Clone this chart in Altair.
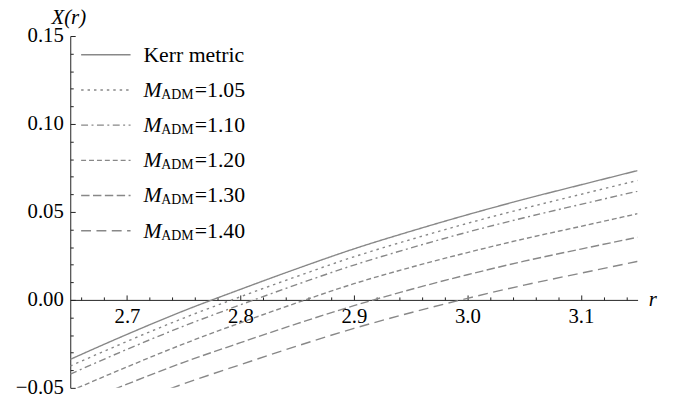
import altair as alt
import pandas as pd

# ---- data ----
r_values = [2.65, 2.70, 2.75, 2.80, 2.85, 2.90, 2.95, 3.00, 3.05, 3.10, 3.15]
kerr = [-0.0338, -0.0196, -0.0062, 0.0060, 0.0178, 0.0290, 0.0390, 0.0484, 0.0572, 0.0654, 0.0735]
m105 = [-0.0376, -0.0236, -0.0103, 0.0018, 0.0134, 0.0245, 0.0343, 0.0435, 0.0520, 0.0600, 0.0679]
m110 = [-0.0422, -0.0281, -0.0149, -0.0028, 0.0088, 0.0198, 0.0295, 0.0385, 0.0467, 0.0543, 0.0618]
m120 = [-0.0518, -0.0381, -0.0250, -0.0130, -0.0016, 0.0092, 0.0185, 0.0269, 0.0347, 0.0418, 0.0490]
m130 = [-0.0610, -0.0479, -0.0355, -0.0243, -0.0135, -0.0033, 0.0059, 0.0143, 0.0220, 0.0289, 0.0356]
m140 = [-0.0723, -0.0596, -0.0477, -0.0368, -0.0262, -0.0162, -0.0073, 0.0009, 0.0084, 0.0152, 0.0219]

series_names = ["Kerr metric", "1.05", "1.10", "1.20", "1.30", "1.40"]
series_values = [kerr, m105, m110, m120, m130, m140]
mass_labels = ["1.05", "1.10", "1.20", "1.30", "1.40"]

x_ticks = [round(2.66 + 0.02 * i, 2) for i in range(25)]
y_ticks = [round(-0.05 + 0.01 * i, 2) for i in range(21)]

# ---- style ----
dash_patterns = [[1, 0], [2.5, 4], [7, 3.5, 2, 3.5], [5, 3], [8.5, 3.5], [10, 5.5]]
LINE = "#888888"
FONT = "Liberation Serif"

rows = []
for name, vals in zip(series_names, series_values):
    for r, v in zip(r_values, vals):
        rows.append({"series": name, "r": r, "X": v})
df = pd.DataFrame(rows)

dash_scale = alt.Scale(domain=series_names, range=dash_patterns)

x_major = "abs(datum.value*10 - round(datum.value*10)) < 0.001"
y_major = "abs(datum.value*20 - round(datum.value*20)) < 0.001"

x_axis = alt.Axis(
    orient="top", offset=-267, values=x_ticks,
    labelExpr=f"{x_major} ? format(datum.value, '.1f') : ''",
    tickSize={"condition": {"test": x_major, "value": 5}, "value": 3},
    labelPadding=-28, labelBaseline="alphabetic", labelOverlap=False, labelFlush=False,
    title="r", titleX=589, titleY=0, titleAlign="center", titleBaseline="middle",
    titleFontStyle="italic", grid=False,
)
y_axis = alt.Axis(
    orient="right", offset=-574, values=y_ticks,
    labelExpr=f"{y_major} ? format(datum.value, '.2f') : ''",
    tickSize={"condition": {"test": y_major, "value": 5}, "value": 3},
    labelAlign="right", labelPadding=-12, labelBaseline="middle", labelOverlap=False,
    title="X(r)", titleAngle=0, titleX=-2, titleY=-19, titleAlign="center",
    titleBaseline="middle", titleFontStyle="italic", grid=False,
)

lines = alt.Chart(df).mark_line(color=LINE, strokeWidth=1.4, clip=True, interpolate="monotone").encode(
    x=alt.X("r:Q", scale=alt.Scale(domain=[2.65, 3.15], nice=False, zero=False), axis=x_axis),
    y=alt.Y("X:Q", scale=alt.Scale(domain=[-0.05, 0.15], nice=False, zero=False), axis=y_axis),
    strokeDash=alt.StrokeDash("series:N", scale=dash_scale, legend=None),
    detail="series:N",
)

leg_y = alt.Y("series:N", scale=alt.Scale(type="point", domain=series_names, range=[19, 197], padding=0), axis=None)

leg_df = pd.DataFrame({"series": series_names})
leg_lines = alt.Chart(leg_df).mark_rule(color=LINE, strokeWidth=1.4).encode(
    x=alt.value(11), x2=alt.value(61), y=leg_y,
    strokeDash=alt.StrokeDash("series:N", scale=dash_scale, legend=None),
)

kerr_df = pd.DataFrame({"series": ["Kerr metric"], "txt": ["Kerr metric"]})
leg_kerr = alt.Chart(kerr_df).mark_text(font=FONT, fontSize=22, align="left", baseline="middle", color="black").encode(
    x=alt.value(74), y=leg_y, text="txt:N"
)

m_df = pd.DataFrame({"series": mass_labels,
                     "m": ["M"] * len(mass_labels),
                     "sub": ["ADM"] * len(mass_labels),
                     "val": ["=" + s for s in mass_labels]})
leg_m = alt.Chart(m_df).mark_text(font=FONT, fontSize=22, fontStyle="italic", align="left", baseline="middle", color="black").encode(
    x=alt.value(74), y=leg_y, text="m:N"
)
leg_sub = alt.Chart(m_df).mark_text(font=FONT, fontSize=14, align="left", baseline="middle", dy=5, color="black").encode(
    x=alt.value(92), y=leg_y, text="sub:N"
)
leg_val = alt.Chart(m_df).mark_text(font=FONT, fontSize=22, align="left", baseline="middle", color="black").encode(
    x=alt.value(126), y=leg_y, text="val:N"
)

chart = alt.layer(lines, leg_lines, leg_kerr, leg_m, leg_sub, leg_val).resolve_scale(
    y="independent"
).properties(
    width=574, height=356, autosize="none",
    padding={"left": 63, "top": 26, "right": 50, "bottom": 15},
).configure_axis(
    labelFont=FONT, labelFontSize=21, labelColor="black",
    titleFont=FONT, titleFontSize=21, titleFontWeight="normal", titleColor="black",
    domainColor="#222222", tickColor="#222222", domainWidth=1, tickWidth=1,
).configure_view(strokeWidth=0)

chart.save("out.html", embed_options={"renderer": "svg", "actions": False})
